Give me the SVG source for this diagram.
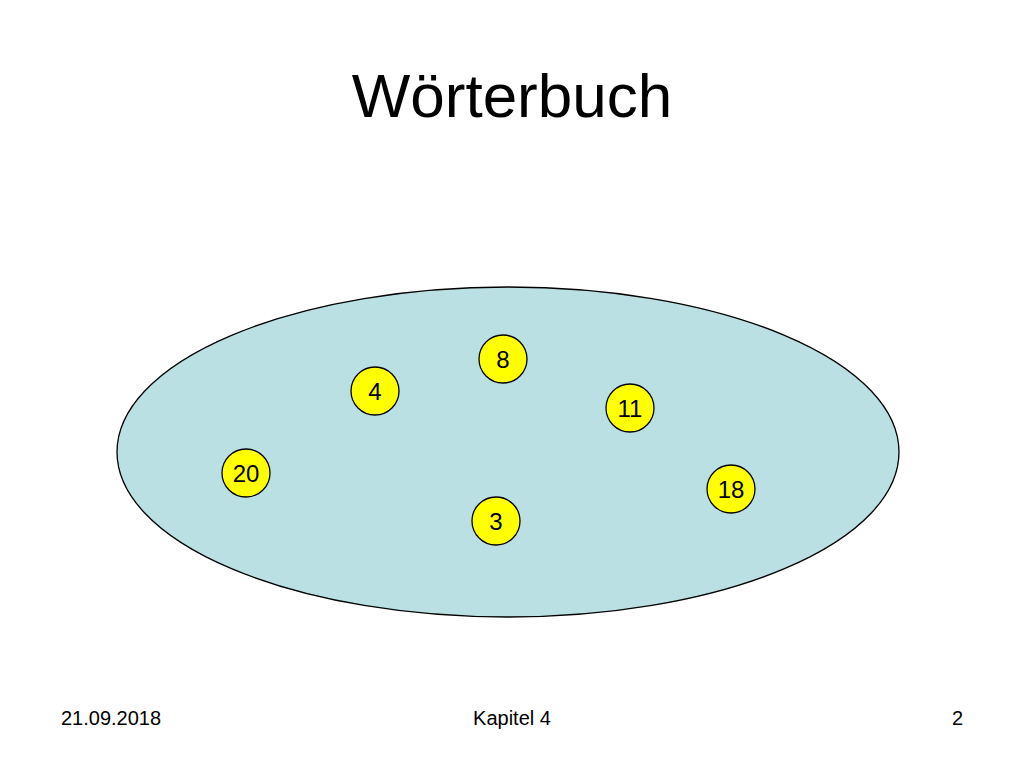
<svg xmlns="http://www.w3.org/2000/svg" width="1024" height="768" viewBox="0 0 1024 768">
<style>
.t{font-family:"Liberation Sans",Arial,sans-serif;fill:#000}
.n circle{fill:#FFFF00;stroke:#000;stroke-width:1.3}
.n text{font-family:"Liberation Sans",Arial,sans-serif;font-size:24px;text-anchor:middle;fill:#000}
</style>
<rect width="1024" height="768" fill="#fff"/>
<text class="t" x="512" y="117" font-size="62" text-anchor="middle">Wörterbuch</text>
<g id="set"><ellipse cx="508" cy="452" rx="391" ry="165" fill="#BBE0E3" stroke="#000" stroke-width="1.3"/></g>
<g id="connectors"></g>
<g id="n8" class="n"><circle cx="503" cy="359" r="24"/><text x="503" y="368">8</text></g>
<g id="n4" class="n"><circle cx="375" cy="391" r="24"/><text x="375" y="400">4</text></g>
<g id="n11" class="n"><circle cx="630" cy="408" r="24"/><text x="630" y="417">11</text></g>
<g id="n20" class="n"><circle cx="246" cy="473" r="24"/><text x="246" y="482">20</text></g>
<g id="n18" class="n"><circle cx="731" cy="489" r="24"/><text x="731" y="498">18</text></g>
<g id="n3" class="n"><circle cx="496" cy="521" r="24"/><text x="496" y="530">3</text></g>
<text class="t" x="61" y="725" font-size="20">21.09.2018</text>
<text class="t" x="512" y="725" font-size="20" text-anchor="middle">Kapitel 4</text>
<text class="t" x="963" y="725" font-size="20" text-anchor="end">2</text>
</svg>
